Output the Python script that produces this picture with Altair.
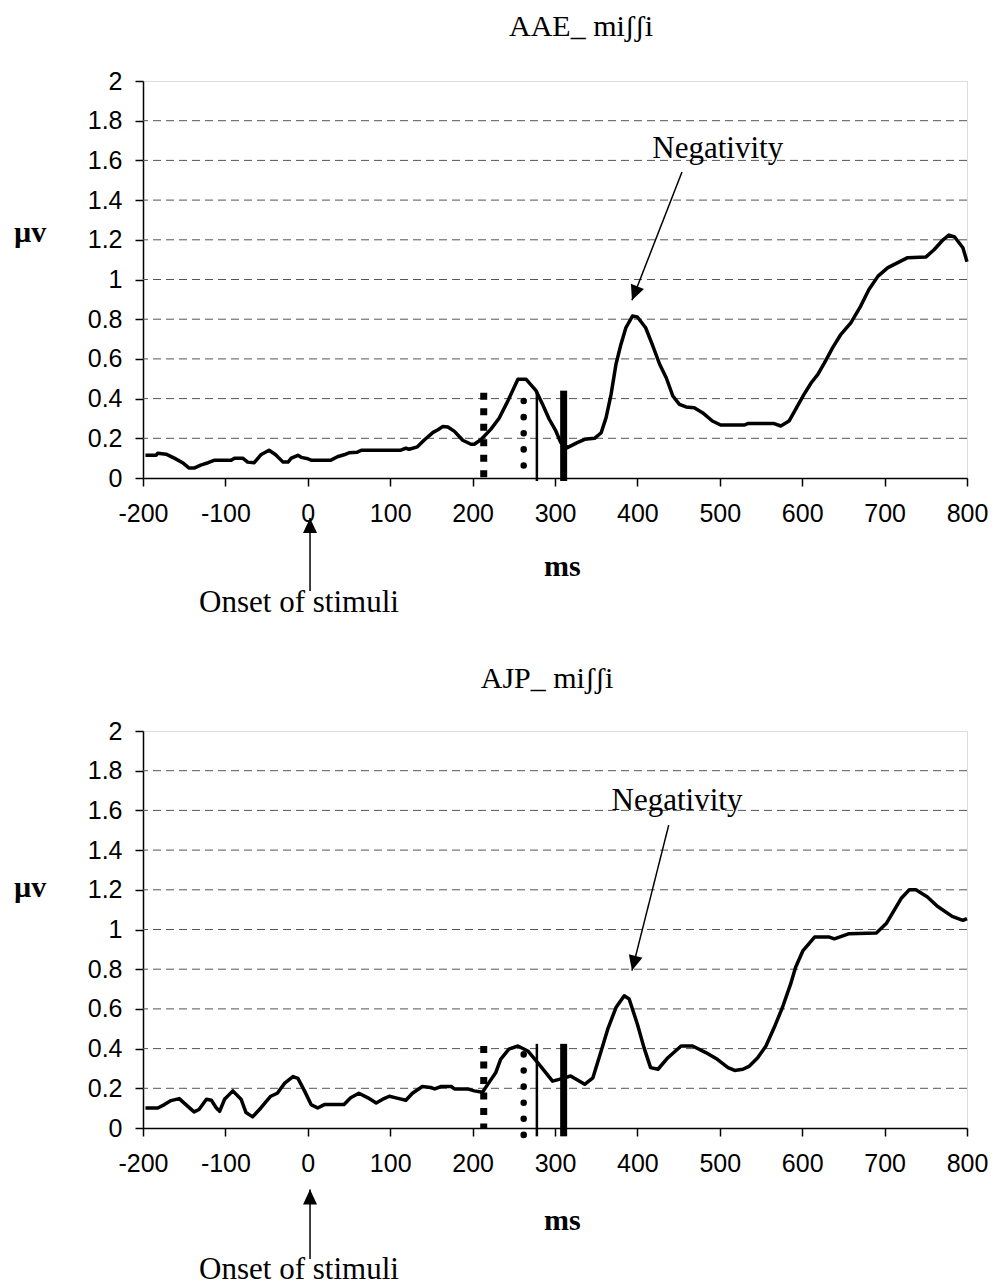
import altair as alt
import pandas as pd

# ---------------- data ----------------
X_TICKS = [-200, -100, 0, 100, 200, 300, 400, 500, 600, 700, 800]
Y_TICKS = [0, 0.2, 0.4, 0.6, 0.8, 1.0, 1.2, 1.4, 1.6, 1.8, 2.0]
GRID_VALUES = [0.2, 0.4, 0.6, 0.8, 1.0, 1.2, 1.4, 1.6, 1.8]

top_ms = [-197, -184, -182, -172, -162, -152, -144, -138, -130, -121, -113, -93, -89, -79,
          -73, -65, -57, -47, -39, -30, -24, -20, -12, -8, 0, 4, 28, 36, 44, 50, 60, 65,
          113, 119, 123, 133, 141, 152, 158, 164, 170, 178, 188, 198, 202, 210, 222, 232,
          243, 255, 265, 277, 285, 293, 301, 307, 315, 327, 336, 348, 356, 362, 368, 374,
          380, 386, 394, 400, 410, 418, 427, 435, 443, 451, 459, 469, 479, 491, 501, 530,
          534, 566, 574, 584, 592, 602, 611, 619, 627, 637, 647, 659, 671, 681, 692, 704,
          716, 728, 750, 760, 771, 778, 785, 795, 800]
top_uv = [0.114, 0.115, 0.125, 0.12, 0.10, 0.077, 0.05, 0.05, 0.065, 0.077, 0.09, 0.09, 0.10, 0.10,
          0.08, 0.077, 0.117, 0.14, 0.117, 0.08, 0.08, 0.10, 0.114, 0.104, 0.097, 0.09, 0.09, 0.107,
          0.117, 0.127, 0.13, 0.14, 0.14, 0.15, 0.145, 0.157, 0.19, 0.23, 0.243, 0.26, 0.257, 0.235,
          0.19, 0.17, 0.17, 0.193, 0.245, 0.30, 0.39, 0.497, 0.497, 0.44, 0.37, 0.296, 0.237, 0.178,
          0.153, 0.178, 0.195, 0.2, 0.228, 0.304, 0.42, 0.573, 0.673, 0.757, 0.816, 0.811, 0.757,
          0.673, 0.573, 0.505, 0.413, 0.371, 0.358, 0.354, 0.329, 0.287, 0.267, 0.267, 0.274, 0.274,
          0.262, 0.287, 0.346, 0.42, 0.48, 0.522, 0.58, 0.657, 0.724, 0.782, 0.866, 0.95, 1.017,
          1.06, 1.085, 1.11, 1.113, 1.15, 1.2, 1.224, 1.214, 1.16, 1.09]

bot_ms = [-197, -182, -174, -166, -156, -148, -138, -132, -123, -117, -111, -107, -101, -91,
          -81, -75, -67, -57, -45, -37, -28, -18, -12, -4, 4, 12, 20, 44, 52, 62, 73, 83, 91,
          99, 107, 119, 127, 139, 149, 154, 162, 174, 178, 194, 202, 212, 220, 228, 234, 244,
          255, 267, 279, 289, 297, 305, 319, 336, 346, 356, 364, 374, 384, 390, 400, 408, 416,
          425, 437, 453, 467, 483, 497, 510, 518, 528, 536, 546, 556, 566, 576, 586, 592, 601,
          615, 633, 639, 657, 690, 702, 720, 730, 738, 752, 764, 782, 795, 800]
bot_uv = [0.101, 0.101, 0.118, 0.138, 0.148, 0.118, 0.081, 0.093, 0.145, 0.14, 0.101, 0.084,
          0.145, 0.187, 0.145, 0.078, 0.056, 0.101, 0.16, 0.175, 0.226, 0.259, 0.25, 0.187, 0.118,
          0.101, 0.118, 0.118, 0.152, 0.175, 0.152, 0.126, 0.145, 0.16, 0.152, 0.14, 0.175, 0.209,
          0.204, 0.197, 0.209, 0.209, 0.197, 0.197, 0.187, 0.18, 0.23, 0.278, 0.346, 0.397, 0.413,
          0.388, 0.329, 0.278, 0.236, 0.245, 0.262, 0.22, 0.253, 0.388, 0.498, 0.607, 0.666, 0.65,
          0.523, 0.405, 0.304, 0.296, 0.354, 0.413, 0.413, 0.38, 0.346, 0.304, 0.29, 0.296, 0.312,
          0.354, 0.413, 0.506, 0.607, 0.726, 0.81, 0.894, 0.962, 0.962, 0.953, 0.979, 0.982, 1.03,
          1.156, 1.2, 1.2, 1.164, 1.117, 1.066, 1.046, 1.055]

marker_ms = [213.5, 262, 278, 310.5]
top_marker_hi = [0.43, 0.388, 0.44, 0.44]
top_marker_lo = [0.0, -0.015, -0.015, -0.015]
bot_marker_hi = [0.413, 0.371, 0.424, 0.424]
bot_marker_lo = [0.0, -0.037, -0.042, -0.042]

titles = ["AAE_ miʃʃi", "AJP_ miʃʃi"]

# ---------------- style ----------------
W, H = 824, 397
SERIF = "Liberation Serif"
SANS = "Liberation Sans"
XS = alt.Scale(domain=[-200, 800], nice=False, zero=False)
YS = alt.Scale(domain=[0, 2], nice=False, zero=False)
X_AXIS = alt.Axis(
    values=X_TICKS, title=None, grid=False, labelFont=SANS, labelFontSize=25,
    labelExpr="'' + datum.value",
    labelColor="black", tickColor="black", tickSize=8, tickWidth=1.5,
    domainColor="black", domainWidth=1.5, labelPadding=15,
    labelFlush=False, labelOverlap=False)
Y_AXIS = alt.Axis(
    values=Y_TICKS, title=None, grid=False, labelFont=SANS,
    labelExpr="'' + datum.value",
    labelFontSize=25, labelColor="black", tickColor="black", tickSize=8,
    tickWidth=1.5, domainColor="black", domainWidth=1.5, labelPadding=13,
    labelFlush=False, labelOverlap=False)
marker_style = [
    dict(strokeWidth=7, strokeDash=[7, 8.5], strokeCap="butt"),
    dict(strokeWidth=6.5, strokeDash=[0.1, 16], strokeCap="round"),
    dict(strokeWidth=2.5, strokeCap="butt"),
    dict(strokeWidth=7, strokeCap="butt"),
]
ARROW_HEAD = "M0,0L0.7,1.5L-0.7,1.5Z"


def xenc(field="ms"):
    return alt.X(f"{field}:Q", scale=XS, axis=X_AXIS)


def yenc(field="uv"):
    return alt.Y(f"{field}:Q", scale=YS, axis=Y_AXIS)


def text_layer(ms, uv, txt, size=31, weight="normal"):
    df = pd.DataFrame({"ms": [ms], "uv": [uv], "t": [txt]})
    return alt.Chart(df).mark_text(
        font=SERIF, fontSize=size, fontWeight=weight, color="black",
        align="center", baseline="alphabetic"
    ).encode(x=xenc(), y=yenc(), text="t:N")


def arrow_layers(x0, y0, x1, y1, angle):
    df = pd.DataFrame({"ms": [x0], "uv": [y0], "ms2": [x1], "uv2": [y1]})
    shaft = alt.Chart(df).mark_rule(color="black", strokeWidth=1.5).encode(
        x=xenc(), y=yenc(), x2="ms2:Q", y2="uv2:Q")
    head_df = pd.DataFrame({"ms": [x1], "uv": [y1]})
    head = alt.Chart(head_df).mark_point(
        shape=ARROW_HEAD, size=400, filled=True, color="black", opacity=1,
        angle=angle, strokeWidth=0
    ).encode(x=xenc(), y=yenc())
    return [shaft, head]


def panel(ms, uv, m_hi, m_lo, title, ann, anchor=False):
    layers = []
    if anchor:
        adf = pd.DataFrame({"ms": [-372.3], "uv": [2.403], "uv2": [2.398]})
        layers.append(alt.Chart(adf).mark_rule(color="white", strokeWidth=0.5)
                      .encode(x=xenc(), y=yenc(), y2="uv2:Q"))
    gdf = pd.DataFrame({"uv": GRID_VALUES})
    layers.append(alt.Chart(gdf).mark_rule(color="#555555", strokeWidth=1, strokeDash=[8, 5])
                  .encode(y=yenc()))
    ldf = pd.DataFrame({"ms": ms, "uv": uv})
    layers.append(alt.Chart(ldf).mark_line(color="black", strokeWidth=3.5, strokeJoin="round")
                  .encode(x=xenc(), y=yenc()))
    for i, st in enumerate(marker_style):
        mdf = pd.DataFrame({"ms": [marker_ms[i]], "uv": [m_hi[i]], "uv2": [m_lo[i]]})
        layers.append(alt.Chart(mdf).mark_rule(color="black", **st)
                      .encode(x=xenc(), y=yenc(), y2="uv2:Q"))
    layers.append(text_layer(ann["title"][0], ann["title"][1], title, size=30))
    layers.append(text_layer(-337, ann["uv_lbl"], "µv", size=30, weight="bold"))
    layers.append(text_layer(309, ann["ms_lbl"], "ms", size=30, weight="bold"))
    layers.append(text_layer(ann["neg"][0], ann["neg"][1], "Negativity"))
    layers.append(text_layer(-10.7, ann["onset"], "Onset of stimuli"))
    layers += arrow_layers(*ann["neg_arrow"])
    layers += arrow_layers(*ann["onset_arrow"])
    return alt.layer(*layers).properties(width=W, height=H)


top_ann = dict(title=(331.6, 2.227), uv_lbl=1.19, ms_lbl=-0.494, neg=(497.5, 1.614),
               onset=-0.675, neg_arrow=(454.1, 1.542, 393.4, 0.895, 201.3),
               onset_arrow=(2.7, -0.569, 2.7, -0.2015, 0))
bot_ann = dict(title=(290.3, 2.218), uv_lbl=1.164, ms_lbl=-0.514, neg=(448, 1.603),
               onset=-0.762, neg_arrow=(438, 1.526, 393.4, 0.793, 194.2),
               onset_arrow=(2.7, -0.66, 2.7, -0.31, 0))

top = panel(top_ms, top_uv, top_marker_hi, top_marker_lo, titles[0], top_ann, anchor=True)
bottom = panel(bot_ms, bot_uv, bot_marker_hi, bot_marker_lo, titles[1], bot_ann)

chart = alt.vconcat(top, bottom, spacing=253, bounds="flush").properties(
    padding=0
).configure_view(stroke="#888888", strokeWidth=1.5).configure(background="white")

chart.save("out.html", embed_options={"renderer": "svg", "actions": False})
